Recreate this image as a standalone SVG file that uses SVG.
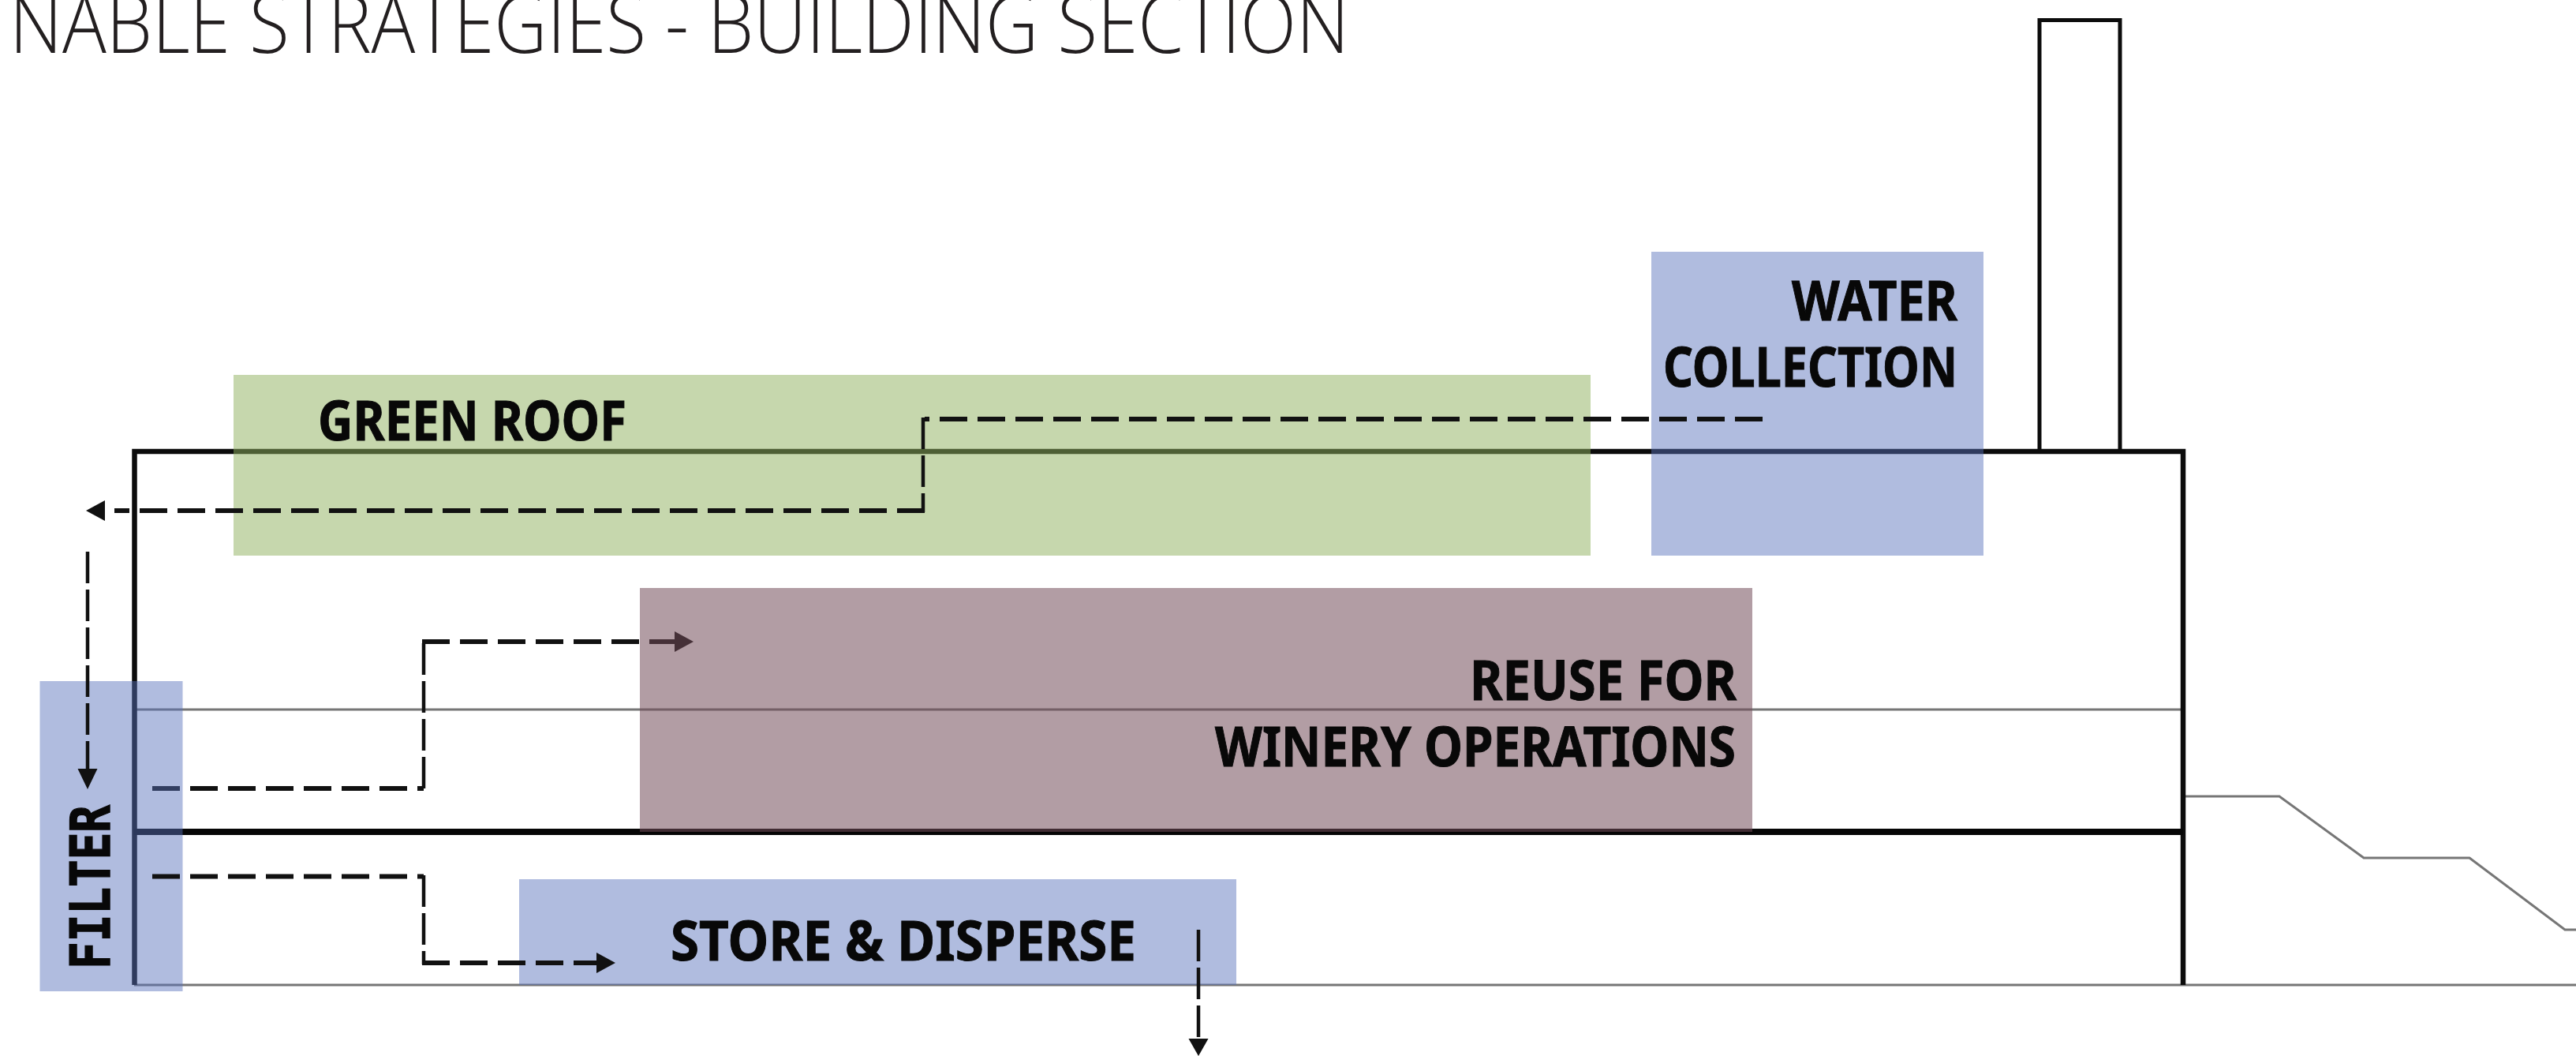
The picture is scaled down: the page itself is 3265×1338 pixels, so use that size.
<svg xmlns="http://www.w3.org/2000/svg" width="3265" height="1338" viewBox="0 0 3265 1338">
<style>
.lbl{font-family:"Noto Sans","DejaVu Sans",sans-serif;font-weight:700;font-size:70px;fill:#080808;stroke:#080808;stroke-width:1}
.mono{font-family:"DejaVu Sans Mono",monospace;font-size:70px;stroke-width:1.500}
.title{font-family:"Open Sans","Noto Sans",sans-serif;font-weight:300;font-size:104px;fill:#231f20}
.heavy{fill:none;stroke:#0c0c0c;stroke-width:6.500}
.floor{fill:none;stroke:#060606;stroke-width:8}
.chim{fill:none;stroke:#0c0c0c;stroke-width:5}
.thin{fill:none;stroke:#767676;stroke-width:3}
.blue{fill:#5771bb;fill-opacity:.47}
.green{fill:#8fb05e;fill-opacity:.51}
.mauve{fill:#734c59;fill-opacity:.55}
.dh{fill:none;stroke:#111;stroke-width:6;stroke-dasharray:35 13}
.dv{fill:none;stroke:#111;stroke-width:4.500;stroke-dasharray:40 8}
.head{fill:#111}
</style>
<rect width="3265" height="1338" fill="#fff"/>
<text class="title" x="12" y="67" textLength="1698" lengthAdjust="spacingAndGlyphs">NABLE STRATEGIES - BUILDING SECTION</text>
<g id="building">
<path class="thin" d="M170 899H2767"/>
<path class="thin" d="M170 1248H3265"/>
<path class="thin" d="M2770 1009H2889L2996 1087H3130L3251 1178H3265"/>
<path class="heavy" d="M170.500 1248V572H2767V1248"/>
<path class="floor" d="M170 1054H2767"/>
<path class="chim" d="M2585 572V25.500H2687V572"/>
</g>
<g id="connectors-under">
<path class="dh" d="M193 999H537"/>
<path class="dv" d="M537 999V813"/>
<path class="dh" d="M535 813H855"/>
<polygon class="head" points="879,813 855,800 855,826"/>
</g>
<g id="reuse"><rect class="mauve" x="811" y="745" width="1410" height="309"/></g>
<g id="green-roof"><rect class="green" x="296" y="475" width="1720" height="229"/></g>
<g id="water-collection"><rect class="blue" x="2093" y="319" width="421" height="385"/></g>
<g id="store-disperse"><rect class="blue" x="658" y="1114" width="909" height="134"/></g>
<g id="filter"><rect class="blue" x="50.500" y="863" width="181" height="393"/></g>
<g id="connectors">
<path class="dh" d="M2234 531H1172"/>
<path class="dv" d="M1170 529V649"/>
<path class="dh" d="M1172 647H145"/>
<polygon class="head" points="109,647 133,634 133,660"/>
<path class="dv" d="M111 699V978"/>
<polygon class="head" points="111,1000 98.500,974 123.500,974"/>
<path class="dh" d="M193 1110.500H537"/>
<path class="dv" d="M537 1109V1222"/>
<path class="dh" d="M535 1220H756"/>
<polygon class="head" points="780,1220 756,1207 756,1233"/>
<path class="dv" d="M1519 1178V1318"/>
<polygon class="head" points="1519,1338 1506.500,1316 1531.500,1316"/>
</g>
<g id="labels">
<text class="lbl" x="403" y="558" textLength="391" lengthAdjust="spacingAndGlyphs">GREEN ROOF</text>
<text class="lbl" x="2271" y="406" textLength="210" lengthAdjust="spacingAndGlyphs">WATER</text>
<text class="lbl" x="2108" y="490" textLength="373" lengthAdjust="spacingAndGlyphs">COLLECTION</text>
<text class="lbl" x="1863" y="887" textLength="338" lengthAdjust="spacingAndGlyphs">REUSE FOR</text>
<text class="lbl" x="1540" y="971" textLength="660" lengthAdjust="spacingAndGlyphs">WINERY OPERATIONS</text>
<text class="lbl" x="850" y="1217" textLength="590" lengthAdjust="spacingAndGlyphs">STORE &amp; DISPERSE</text>
<text class="lbl mono" transform="translate(139 1228) rotate(-90)" textLength="208" lengthAdjust="spacingAndGlyphs">FILTER</text>
</g>
</svg>
